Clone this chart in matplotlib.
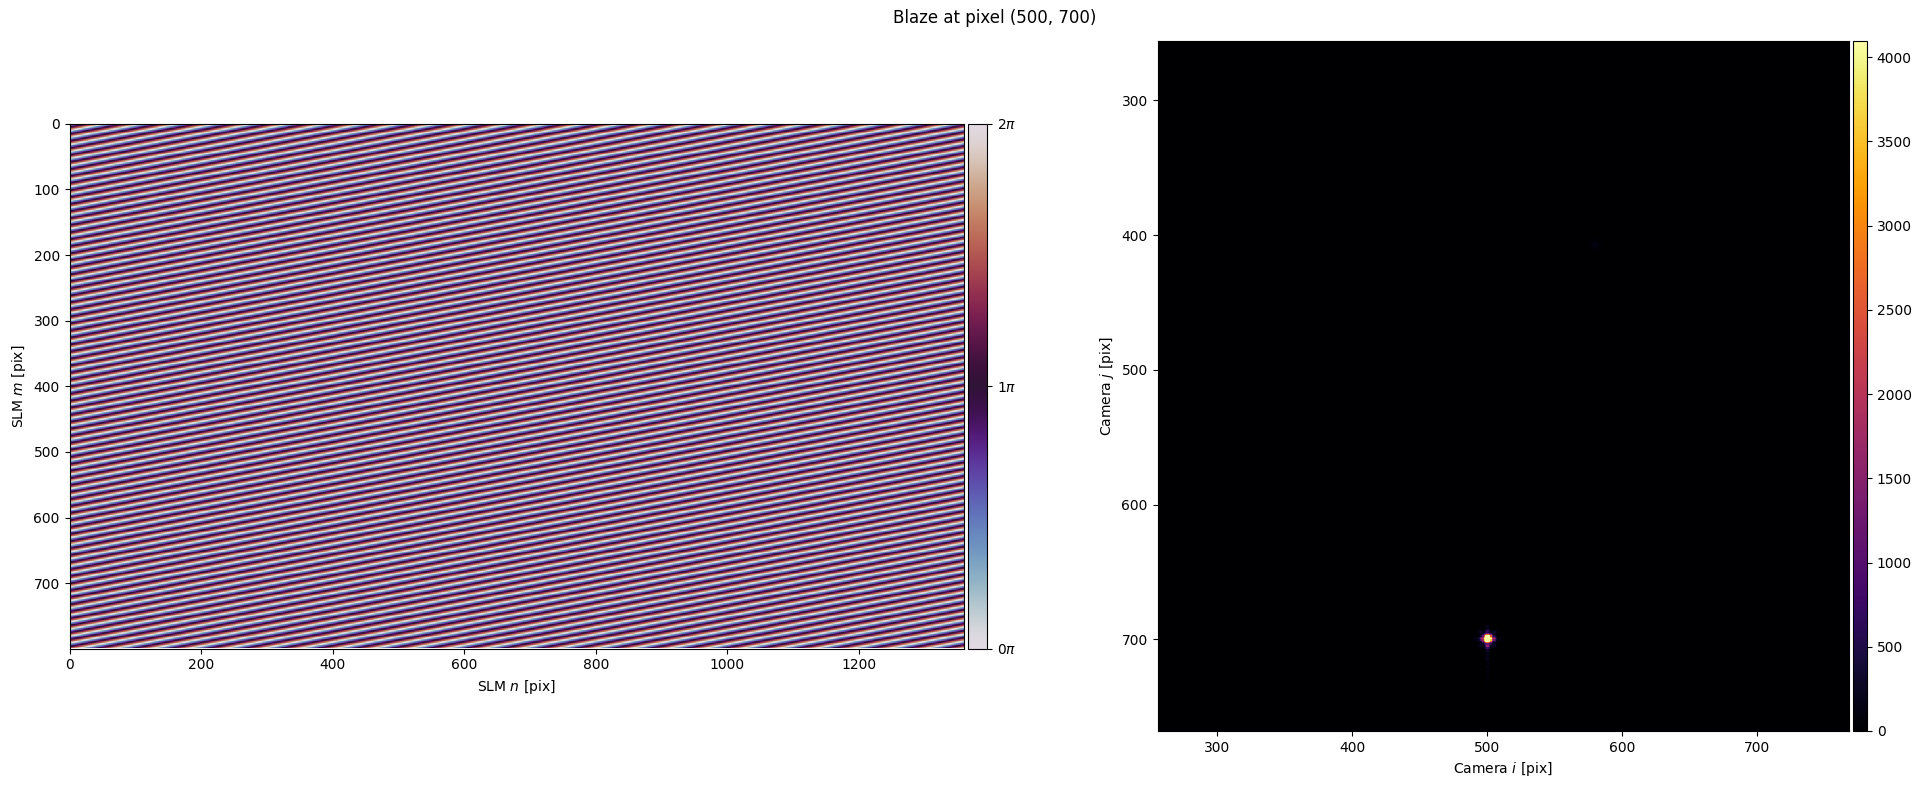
import numpy as np
import matplotlib
matplotlib.use("Agg")
import matplotlib.pyplot as plt

W, H = 1921, 788
slm_shape = (800, 1360)
fringe_period_m = 10.7
fringe_period_n = 56.0
cam_lim = (256, 768)
spot_center = (499.5, 699.0)
core_peak = 9000
core_sigma = 2.0
lobe_di = [-4.5, 4.5, 0, 0, -5, 5, -5, 5, -9, 9, 0]
lobe_dj = [0, 0, 5.5, -5.5, -5, -5, 5, 5, 0, 0, -9]
lobe_vals = [1800, 1900, 1900, 750, 320, 320, 350, 350, 170, 170, 230]
tail_j = [9, 12, 15, 18, 21, 24, 27, 30, 33]
tail_vals = [420, 200, 260, 110, 170, 80, 110, 50, 60]
ghost_center = (579, 407)
ghost_val = 130
phase_ticks = [0, np.pi, 2 * np.pi]
phase_labels = [r"$0\pi$", r"$1\pi$", r"$2\pi$"]

m, n = np.mgrid[:slm_shape[0], :slm_shape[1]]
phase = np.mod(2 * np.pi * (m / fringe_period_m + n / fringe_period_n), 2 * np.pi)

N = cam_lim[1] - cam_lim[0]
I, J = np.meshgrid(np.arange(cam_lim[0], cam_lim[1]), np.arange(cam_lim[0], cam_lim[1]))
cam = np.zeros((N, N))
def add(ci, cj, v, s):
    global cam
    cam = np.maximum(cam, v * np.exp(-((I - ci) ** 2 + (J - cj) ** 2) / (2 * s ** 2)))
add(spot_center[0], spot_center[1], core_peak, core_sigma)
for di, dj, v in zip(lobe_di, lobe_dj, lobe_vals):
    add(spot_center[0] + di, spot_center[1] + dj, v, 1.2)
for dj, v in zip(tail_j, tail_vals):
    add(spot_center[0], spot_center[1] + dj, v, 1.0)
add(ghost_center[0], ghost_center[1], ghost_val, 2.5)

fig = plt.figure(figsize=(W / 100, H / 100), dpi=100)
def rect(x0, y0, x1, y1):
    return [x0 / W, 1 - y1 / H, (x1 - x0) / W, (y1 - y0) / H]

ax1 = fig.add_axes(rect(69.5, 123.5, 963.5, 648.5))
im1 = ax1.imshow(phase, cmap="twilight", vmin=0, vmax=2 * np.pi, aspect="auto",
                 interpolation="nearest")
ax1.set_xlabel(r"SLM $n$ [pix]")
ax1.set_ylabel(r"SLM $m$ [pix]")
cax1 = fig.add_axes(rect(968, 123.5, 987, 648.5))
cb1 = fig.colorbar(im1, cax=cax1, ticks=phase_ticks)
cb1.ax.set_yticklabels(phase_labels)

ax2 = fig.add_axes(rect(1157.5, 41, 1849, 731))
im2 = ax2.imshow(cam, cmap="inferno", vmin=0, vmax=4095, aspect="auto",
                 extent=(cam_lim[0], cam_lim[1], cam_lim[1], cam_lim[0]),
                 interpolation="nearest")
ax2.set_xticks([300, 400, 500, 600, 700])
ax2.set_yticks([300, 400, 500, 600, 700])
ax2.set_xlabel(r"Camera $i$ [pix]")
ax2.set_ylabel(r"Camera $j$ [pix]")
cax2 = fig.add_axes(rect(1853, 41, 1867, 731))
fig.colorbar(im2, cax=cax2)

fig.suptitle("Blaze at pixel (500, 700)", x=995 / W, y=1 - 18 / H, va="center", fontsize=12)
fig.savefig("out.png", dpi=100)
